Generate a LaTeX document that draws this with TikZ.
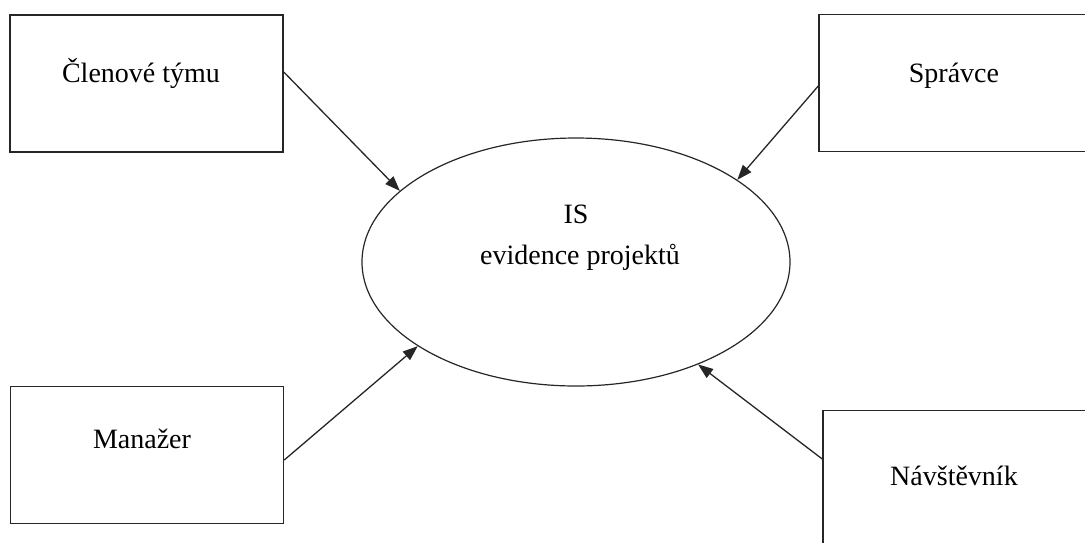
\documentclass[tikz,border=0pt]{standalone}
\usepackage{fontspec}
\setmainfont{Liberation Serif}
\usetikzlibrary{arrows.meta,shapes.geometric}
\begin{document}
\begin{tikzpicture}[x=1pt,y=-1pt,
  actor/.style={draw=black!85, line width=1.5pt, minimum width=273pt, minimum height=137pt, inner sep=0pt},
  caption/.style={anchor=base, inner sep=0pt, font=\fontsize{28}{33}\selectfont},
  system/.style={draw=black!85, line width=1.2pt, ellipse, minimum width=428pt, minimum height=248pt, inner sep=0pt},
  flow/.style={draw=black!85, line width=1.3pt, -{Triangle[length=15pt,width=11pt]}}]
  \useasboundingbox (0,0) rectangle (1085,542);
  \clip (0,0) rectangle (1085,542);

  % actors
  \node[actor] (team) at (146.5,83.5) {};
  \node[actor] (admin) at (955.5,83) {};
  \node[actor] (mgr) at (147,455) {};
  \node[actor] (visitor) at (959.5,479) {};

  \node[caption] (teamtxt) at (141,82) {Členové týmu};
  \node[caption] (admintxt) at (954,82) {Správce};
  \node[caption] (mgrtxt) at (142,448) {Manažer};
  \node[caption] (visitortxt) at (954,485) {Návštěvník};

  % the information system
  \node[system] (is) at (576,262) {};
  \node[caption] (istxt1) at (576,223) {IS};
  \node[caption] (istxt2) at (580,264) {evidence projektů};

  % arrow start points on the actor boxes
  \coordinate (s1) at (team.east |- 0,72);
  \coordinate (s2) at (admin.west |- 0,86);
  \coordinate (s3) at (mgr.east |- 0,460);
  \coordinate (s4) at (visitor.west |- 0,459);

  \draw[flow] (s1) -- (is.158.5);
  \draw[flow] (s2) -- (is.27.4);
  \draw[flow] (s3) -- (is.208);
  \draw[flow] (s4) -- (is.320);
\end{tikzpicture}
\end{document}
